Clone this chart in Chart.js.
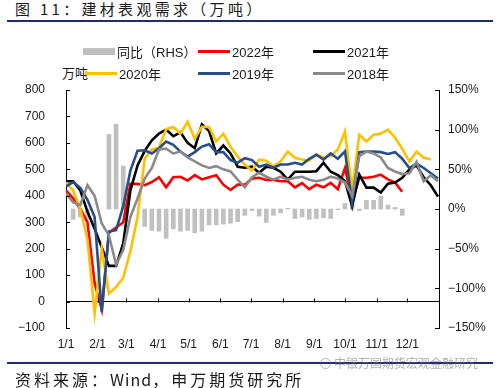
<!DOCTYPE html>
<html>
<head>
<meta charset="utf-8">
<script src="https://cdn.jsdelivr.net/npm/chart.js@4.4.0/dist/chart.umd.min.js"></script>
<style>
  body { margin: 0; width: 500px; height: 388px; position: relative; overflow: hidden; background: #fff;
         font-family: "Liberation Sans", "Noto Sans CJK SC", sans-serif; color: #1a1a1a; }
  #title { position: absolute; left: 15px; top: 0px; font: 15px/18px "Noto Sans CJK SC"; letter-spacing: 3.3px; white-space: nowrap; }
  .rule { position: absolute; left: 7px; width: 486px; height: 2px; background: #1f2d72; }
  #chartBox { position: absolute; left: 0; top: 0; width: 500px; height: 388px; }
  .lg { position: absolute; display: flex; align-items: center; height: 18px; font-size: 13px; white-space: nowrap; }
  .lg .box { width: 32px; height: 7px; margin-right: 2px; }
  .lg .ln { width: 32px; height: 3px; margin-right: 2px; }
  #unit { position: absolute; left: 62px; top: 64px; font: 13px/18px "Noto Sans CJK SC"; }
  #source { position: absolute; left: 15px; top: 369px; font: 16px/20px "Noto Sans CJK SC"; letter-spacing: 3px; white-space: nowrap; }
  #source b { font-weight: normal; letter-spacing: 1px; }
  #mark { position: absolute; left: 320px; top: 355px; font: 12px/16px "Noto Sans CJK SC"; color: rgba(110,110,110,0.55); white-space: nowrap; }
  #mark span { display: inline-block; width: 9px; height: 9px; border: 1px solid rgba(110,110,110,0.5); border-radius: 50%; margin-right: 3px; vertical-align: -1px; }
</style>
</head>
<body>
<div id="title">图 11：建材表观需求（万吨）</div>
<div class="rule" style="top:20px"></div>
<div id="unit">万吨</div>
<div id="chartBox"><canvas id="myChart" width="500" height="388"></canvas></div>
<div class="rule" style="top:362px"></div>
<div id="mark"><span></span>申银万国期货宏观金融研究</div>
<div id="source">资料来源：<b>Wind</b>，申万期货研究所</div>
<script>
const ctx = document.getElementById('myChart').getContext('2d');

// day of year for each weekly observation
const weekDays = [0, 7, 14, 21, 28, 35, 42, 49, 56, 63, 70, 77, 84, 91, 98, 105, 112, 119, 126, 133,
  140, 147, 154, 161, 168, 175, 182, 189, 196, 203, 210, 217, 224, 231, 238, 245, 252, 259, 266,
  273, 280, 287, 294, 301, 308, 315, 322, 329, 336, 343, 350, 357, 364];

const monthStarts = [0, 31, 59, 90, 120, 151, 181, 212, 243, 273, 304, 334];
const monthLabels = ['1/1', '2/1', '3/1', '4/1', '5/1', '6/1', '7/1', '8/1', '9/1', '10/1', '11/1', '12/1'];

// 同比 (%), right axis
const yoy = [null, -13, -10, -12, null, null, 94, 107, 54, null, null, -22, -27, -28, -37, -25, -28, -27,
  -30, -28, -20, -20, -19, -18, -16, -8, -2, -9, -17, -8, -5, 1, -12, -10, -13, -12, -11, -12, -1, 7,
  5, -2, 11, 11, 16, 5, 2, -8, null, null, null, null, null];

const y2022 = [420, 390, 350, 300, 70, -30, 260, 280, 300, 445, 445, 440, 452, 470, 432, 470, 472, 458,
  478, 462, 470, 478, 442, 422, 442, 442, 465, 468, 460, 460, 455, 455, 432, 448, 425, 442, 432, 449,
  425, 505, 380, 468, 468, 472, 480, 462, 450, 415, null, null, null, null, null];

const y2021 = [455, 455, 420, 340, 275, 205, 135, 135, 220, 420, 515, 570, 610, 635, 650, 625, 640, 600,
  580, 670, 645, 560, 590, 560, 510, 506, 510, 487, 510, 506, 491, 461, 491, 491, 491, 493, 525, 491,
  478, 455, 360, 480, 431, 431, 412, 446, 450, 468, 499, 515, 470, 440, 397];

const y2020 = [450, 420, 350, 235, -45, 200, 30, 55, 90, 190, 320, 540, 575, 582, 652, 660, 635, 680,
  615, 661, 660, 605, 635, 585, 548, 518, 495, 537, 533, 510, 530, 567, 544, 537, 533, 556, 545, 550,
  575, 643, 420, 631, 605, 631, 635, 650, 620, 578, 530, 567, 544, 538, null];

const y2019 = [435, 452, 430, 385, 320, -40, 265, 270, 360, 495, 570, 572, 560, 580, 605, 593, 567, 548,
  565, 586, 595, 565, 565, 535, 525, 542, 535, 510, 518, 506, 518, 518, 525, 518, 540, 555, 537, 560,
  540, 568, 375, 565, 567, 567, 565, 558, 565, 540, 505, 522, 505, 485, 465];

const y2018 = [410, 375, 365, 440, 400, 295, 250, 140, 195, 320, 390, 465, 505, 575, 578, 560, 567, 545,
  530, 515, 505, 512, 500, 492, 461, 432, 470, 487, 472, 461, 472, 461, 468, 472, 461, 455, 461, 472,
  465, 450, 400, 550, 567, 560, 545, 505, 492, 482, 485, 528, 455, 478, 455];

const toPoints = vals => weekDays.map((d, i) => ({ x: d, y: vals[i] }));

const minusSign = v => (v < 0 ? '\u2212' + Math.abs(v) : String(v));

const lineSet = (label, vals, color, order) => ({
  type: 'line',
  label: label,
  data: toPoints(vals),
  borderColor: color,
  backgroundColor: color,
  borderWidth: 2.6,
  pointRadius: 0,
  tension: 0,
  spanGaps: false,
  yAxisID: 'y',
  order: order
});

const datasets = [
  {
    type: 'bar',
    label: '同比（RHS）',
    data: toPoints(yoy),
    backgroundColor: '#c0c0c0',
    barThickness: 4,
    yAxisID: 'y1',
    order: 6
  },
  lineSet('2022年', y2022, '#ff0000', 5),
  lineSet('2021年', y2021, '#000000', 4),
  lineSet('2020年', y2020, '#ffc000', 3),
  lineSet('2019年', y2019, '#264f87', 2),
  lineSet('2018年', y2018, '#8a8a8a', 1)
];

// short tick marks drawn inside the plot, like the original
const innerTicks = {
  id: 'innerTicks',
  afterDatasetsDraw(chart) {
    const { ctx, chartArea, scales } = chart;
    ctx.save();
    ctx.strokeStyle = '#000';
    ctx.lineWidth = 1;
    ctx.beginPath();
    scales.y.ticks.forEach(t => {
      const py = Math.round(scales.y.getPixelForValue(t.value)) + 0.5;
      ctx.moveTo(chartArea.left, py);
      ctx.lineTo(chartArea.left + 4, py);
    });
    scales.y1.ticks.forEach(t => {
      const py = Math.round(scales.y1.getPixelForValue(t.value)) + 0.5;
      ctx.moveTo(chartArea.right, py);
      ctx.lineTo(chartArea.right - 4, py);
    });
    const y0 = Math.round(scales.y.getPixelForValue(0)) + 0.5;
    scales.x.ticks.forEach(t => {
      const px = Math.round(scales.x.getPixelForValue(t.value)) + 0.5;
      ctx.moveTo(px, y0);
      ctx.lineTo(px, y0 - 4);
    });
    ctx.stroke();
    ctx.restore();
  }
};

const tickFont = { family: 'Liberation Sans', size: 12 };

const myChart = new Chart(ctx, {
  data: { datasets: datasets },
  plugins: [innerTicks],
  options: {
    responsive: false,
    animation: false,
    layout: { padding: { top: 90, left: 0, right: 0, bottom: 0 } },
    plugins: { legend: { display: false }, tooltip: { enabled: false } },
    scales: {
      x: {
        type: 'linear',
        offset: false,
        min: 0,
        max: 365,
        afterBuildTicks: s => { s.ticks = monthStarts.map(v => ({ value: v })); },
        afterFit: s => { s.height = 60; },
        ticks: {
          autoSkip: false,
          maxRotation: 0,
          padding: 9,
          color: '#1a1a1a',
          font: tickFont,
          callback: (v, i) => monthLabels[i]
        },
        grid: { display: false, drawTicks: false, offset: false },
        border: { display: false }
      },
      y: {
        position: 'left',
        min: -100,
        max: 800,
        afterFit: s => { s.width = 66; },
        ticks: { stepSize: 100, padding: 21, color: '#1a1a1a', font: tickFont, callback: v => minusSign(v) },
        grid: {
          drawTicks: false,
          color: c => (c.tick && c.tick.value === 0 ? '#000' : 'rgba(0,0,0,0)')
        },
        border: { display: true, color: '#000', width: 1 }
      },
      y1: {
        position: 'right',
        min: -150,
        max: 150,
        afterFit: s => { s.width = 61; },
        ticks: { stepSize: 50, padding: 9, color: '#1a1a1a', font: tickFont, callback: v => minusSign(v) + '%' },
        grid: { display: false, drawTicks: false },
        border: { display: true, color: '#000', width: 1 }
      }
    }
  }
});

// legend built from the datasets
const legendSlots = [[83, 51], [198, 51], [313, 51], [85, 73], [198, 73], [313, 73]];
datasets.forEach((ds, i) => {
  const item = document.createElement('div');
  item.className = 'lg';
  item.style.left = legendSlots[i][0] + 'px';
  item.style.top = (legendSlots[i][1] - 9) + 'px';
  const mk = document.createElement('span');
  mk.className = ds.type === 'bar' ? 'box' : 'ln';
  mk.style.background = ds.type === 'bar' ? ds.backgroundColor : ds.borderColor;
  const txt = document.createElement('span');
  txt.textContent = ds.label;
  item.appendChild(mk);
  item.appendChild(txt);
  document.body.appendChild(item);
});
</script>
</body>
</html>
